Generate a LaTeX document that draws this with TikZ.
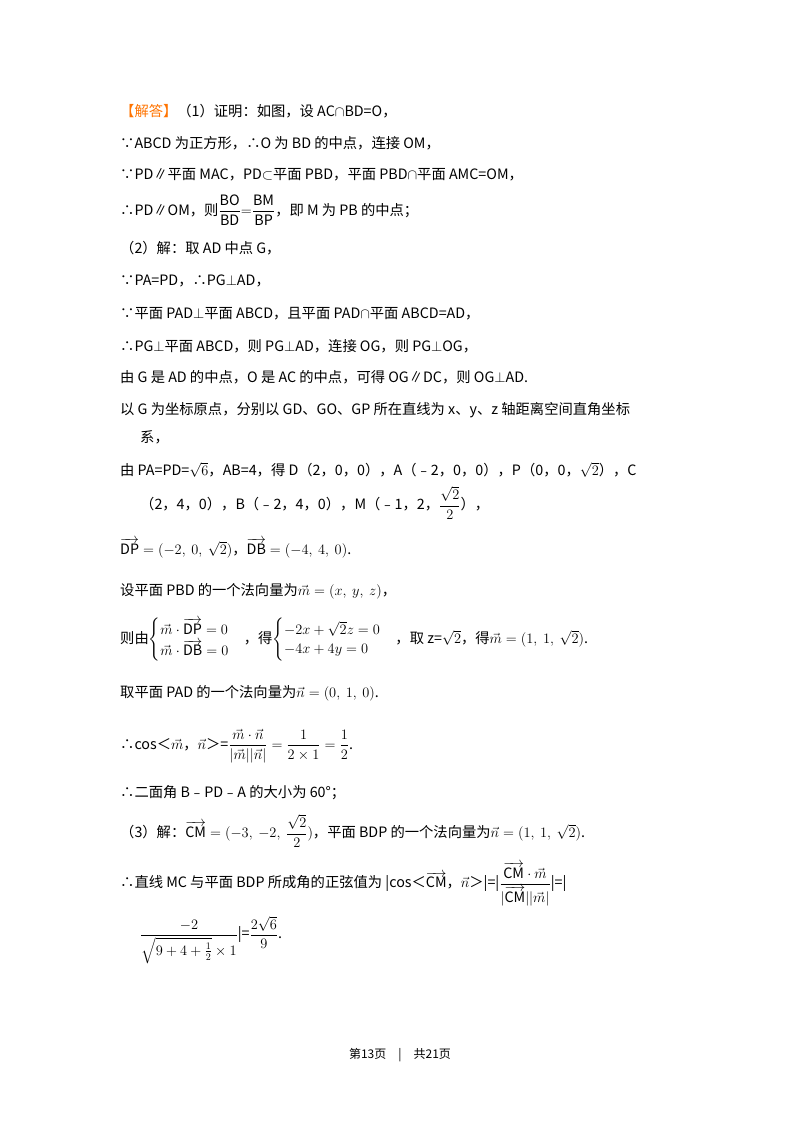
\documentclass[tikz,border=0pt]{standalone}
\usepackage{amsmath}
\usepackage{fontspec}
\setmainfont{Noto Sans CJK SC}
\begin{document}
\begin{tikzpicture}[x=1pt,y=-1pt,t/.style={anchor=west,inner sep=0pt,font=\fontsize{14.3}{16}\selectfont}]
\useasboundingbox (0,0) rectangle (800,1132);
\node[t] (l1) at (120,111) {\textcolor{orange!90!red}{【解答】}（1）证明：如图，设 AC$\cap$BD=O，};
\node[t] (l2) at (120,143) {∵ABCD 为正方形，∴O 为 BD 的中点，连接 OM，};
\node[t] (l3) at (120,175) {∵PD∥平面 MAC，PD$\subset$平面 PBD，平面 PBD$\cap$平面 AMC=OM，};
\node[t] (l4) at (120,210) {∴PD∥OM，则$\dfrac{\mathrm{BO}}{\mathrm{BD}}{=}\dfrac{\mathrm{BM}}{\mathrm{BP}}$，即 M 为 PB 的中点；};
\node[t] (l5) at (120,248) {（2）解：取 AD 中点 G，};
\node[t] (l6) at (120,281) {∵PA=PD，∴PG$\perp$AD，};
\node[t] (l7) at (120,314) {∵平面 PAD$\perp$平面 ABCD，且平面 PAD$\cap$平面 ABCD=AD，};
\node[t] (l8) at (120,346) {∴PG$\perp$平面 ABCD，则 PG$\perp$AD，连接 OG，则 PG$\perp$OG，};
\node[t] (l9) at (120,377) {由 G 是 AD 的中点，O 是 AC 的中点，可得 OG∥DC，则 OG$\perp$AD.};
\node[t] (l10) at (120,410) {以 G 为坐标原点，分别以 GD、GO、GP 所在直线为 x、y、z 轴距离空间直角坐标};
\node[t] (l11) at (140,437) {系，};
\node[t] (l12) at (120,470) {由 PA=PD=$\sqrt{6}$，AB=4，得 D（2，0，0），A（﹣2，0，0），P（0，0，$\sqrt{2}$），C};
\node[t] (l13) at (140,503) {（2，4，0），B（﹣2，4，0），M（﹣1，2，$\dfrac{\sqrt{2}}{2}$），};
\node[t] (l14) at (120,548) {$\overrightarrow{\mathrm{DP}}=(-2,\ 0,\ \sqrt{2})$，$\overrightarrow{\mathrm{DB}}=(-4,\ 4,\ 0)$.};
\node[t] (l15) at (120,591) {设平面 PBD 的一个法向量为$\vec{m}=(x,\ y,\ z)$，};
\node[t] (l16) at (120,640) {则由$\begin{cases}\vec{m}\cdot\overrightarrow{\mathrm{DP}}=0\\ \vec{m}\cdot\overrightarrow{\mathrm{DB}}=0\end{cases}$，得$\begin{cases}-2x+\sqrt{2}z=0\\ -4x+4y=0\end{cases}$，取 z=$\sqrt{2}$，得$\vec{m}=(1,\ 1,\ \sqrt{2})$.};
\node[t] (l17) at (120,693) {取平面 PAD 的一个法向量为$\vec{n}=(0,\ 1,\ 0)$.};
\node[t] (l18) at (120,746) {∴cos＜$\vec{m}$，$\vec{n}$＞=$\dfrac{\vec{m}\cdot\vec{n}}{|\vec{m}||\vec{n}|}=\dfrac{1}{2\times1}=\dfrac{1}{2}$.};
\node[t] (l19) at (120,793) {∴二面角 B﹣PD﹣A 的大小为 60°；};
\node[t] (l20) at (120,831) {（3）解：$\overrightarrow{\mathrm{CM}}=(-3,\ -2,\ \dfrac{\sqrt{2}}{2})$，平面 BDP 的一个法向量为$\vec{n}=(1,\ 1,\ \sqrt{2})$.};
\node[t] (l21) at (120,884) {∴直线 MC 与平面 BDP 所成角的正弦值为 |cos＜$\overrightarrow{\mathrm{CM}}$，$\vec{n}$＞|=|$\dfrac{\overrightarrow{\mathrm{CM}}\cdot\vec{m}}{|\overrightarrow{\mathrm{CM}}||\vec{m}|}$|=|};
\node[t] (l22) at (140,940) {$\dfrac{-2}{\sqrt{9+4+\frac{1}{2}}\times1}$|=$\dfrac{2\sqrt{6}}{9}$.};
\node[anchor=center,inner sep=0pt,font=\fontsize{12}{14}\selectfont] (ft) at (400,1055) {第13页\quad|\quad 共21页};
\end{tikzpicture}
\end{document}
